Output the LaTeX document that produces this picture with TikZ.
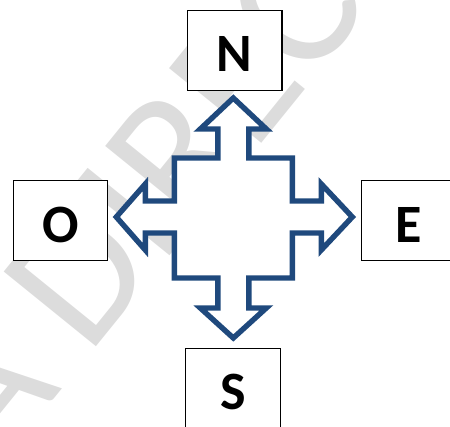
\documentclass[tikz,border=0pt]{standalone}
\usepackage{fontspec}
\setmainfont{Carlito}
\usetikzlibrary{positioning}

\definecolor{arrowblue}{RGB}{31,73,125}
\definecolor{markgray}{RGB}{220,220,220}

\tikzset{
   dirbox/.style={draw=black, line width=1.2pt, fill=white,
      minimum width=94.5pt, minimum height=80pt, inner sep=0pt,
      font=\fontsize{54}{54}\selectfont\bfseries,
      text height=43pt, text depth=0pt},
   bigarrow/.style={draw=arrowblue, line width=5.4pt, fill=white,
      line join=miter},
   watermark/.style={text=markgray, inner sep=0pt,
      font=\fontsize{185}{185}\selectfont}
}

\begin{document}
\begin{tikzpicture}[x=1pt,y=1pt]
   \useasboundingbox (0,0) rectangle (450,427);

   % watermark behind everything
   \node[watermark, rotate=51, anchor=base west] (mark) at (-5,-45) {A DIRECCIÓN};

   % four-way arrow
   \coordinate (c) at (233.3,210);
   \begin{scope}[shift={(c)}]
      \draw[bigarrow]
         (0,119) -- (33,88) -- (15.5,88) -- (15.5,59) -- (59,59) -- (59,16)
         -- (88,16) -- (88,33) -- (119,0) -- (88,-33) -- (88,-16) -- (59,-16)
         -- (59,-61) -- (15.5,-61) -- (15.5,-91) -- (33,-91) -- (0,-121)
         -- (-33,-91) -- (-15.5,-91) -- (-15.5,-61) -- (-59,-61) -- (-59,-16)
         -- (-88,-16) -- (-88,-33) -- (-117,0) -- (-88,33) -- (-88,16)
         -- (-59,16) -- (-59,59) -- (-15.5,59) -- (-15.5,88) -- (-33,88)
         -- cycle;
   \end{scope}

   % the four points
   \node[dirbox] (north) at (234.7,376.5) {N};
   \node[dirbox] (west)  at (60.5,206.3)  {O};
   \node[dirbox] (east)  at (409,206.3)   {E};
   \node[dirbox] (south) at (233,38.5)    {S};
\end{tikzpicture}
\end{document}
